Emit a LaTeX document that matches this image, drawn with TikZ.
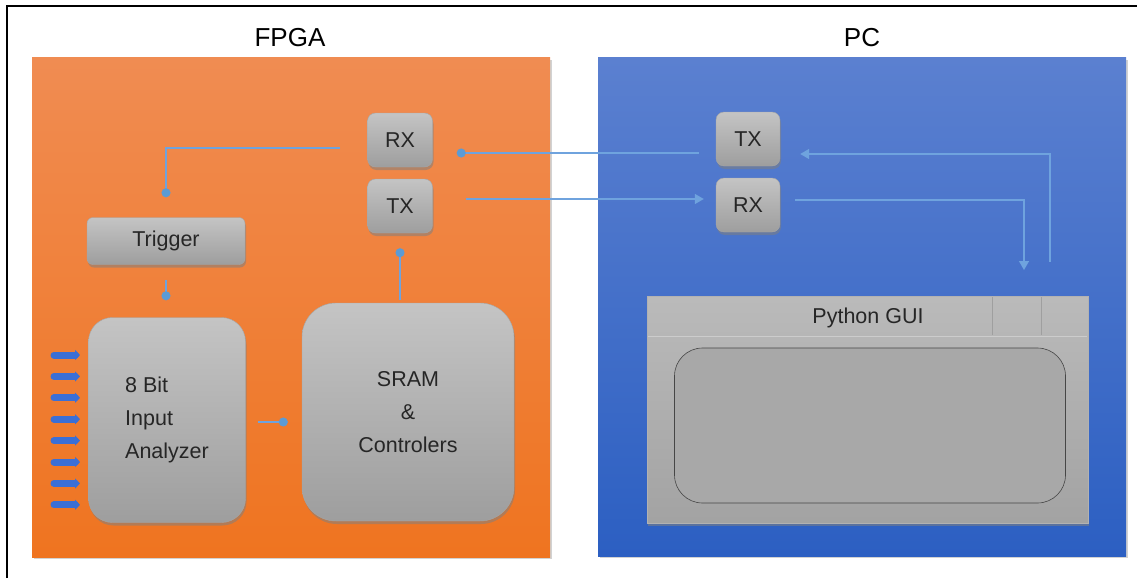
\documentclass[tikz,border=0pt]{standalone}
\usepackage{fontspec}
\setmainfont{Liberation Sans}
\usetikzlibrary{shadows,arrows.meta}
\definecolor{orTop}{HTML}{F08C52}
\definecolor{orBot}{HTML}{EF7420}
\definecolor{blTop}{HTML}{5B80D0}
\definecolor{blBot}{HTML}{2C5FC2}
\definecolor{gTop}{HTML}{C4C4C4}
\definecolor{gBot}{HTML}{9E9E9E}
\definecolor{link}{HTML}{6FA3DE}
\definecolor{dotc}{HTML}{5B9BD5}
\definecolor{inarr}{HTML}{3B6FD6}
\tikzset{
  panel/.style={draw=none, drop shadow={shadow xshift=2pt, shadow yshift=-2pt, opacity=0.35}},
  gbox/.style={draw=gray!70, line width=0.4pt, top color=gTop, bottom color=gBot,
     drop shadow={shadow xshift=1pt, shadow yshift=-3pt, opacity=0.55},
     font=\fontsize{21.5}{33}\selectfont, text=black!85, inner sep=0pt},
  title/.style={font=\fontsize{26}{30}\selectfont, text=black},
  link/.style={draw=link, line width=1.3pt},
  dotlink/.style={link, -{Circle[length=9pt, fill=dotc, color=dotc]}},
  trilink/.style={link, -{Triangle[length=9pt, width=10pt, fill=link, color=link]}},
  inp/.style={draw=inarr, line width=7pt, line cap=round, -{Triangle[length=5pt,width=10pt]}}
}
\begin{document}
\begin{tikzpicture}[x=1pt,y=-1pt]
\useasboundingbox (0,0) rectangle (1137,578);
\fill[white] (0,0) rectangle (1137,578);
% frame
\draw[black, line width=2pt] (7,578) -- (7,6) -- (1137,6);
% panels
\path[panel, top color=orTop, bottom color=orBot] (32,58) rectangle (550,557);
\path[panel, top color=blTop, bottom color=blBot] (598,58) rectangle (1126,556);
\node[title] (tf) at (290,38) {FPGA};
\node[title] (tp) at (862,38) {PC};
% FPGA blocks
\node[gbox, rounded corners=8pt, minimum width=65pt, minimum height=54pt] (rxf) at (400,140) {RX};
\node[gbox, rounded corners=8pt, minimum width=65pt, minimum height=54pt] (txf) at (400,206) {TX};
\node[gbox, rounded corners=6pt, minimum width=158pt, minimum height=47pt] (trig) at (166,241) {Trigger};
\node[gbox, rounded corners=24pt, minimum width=157pt, minimum height=205pt, align=left] (ana) at (167,420) {8 Bit\\Input\\Analyzer};
\node[gbox, rounded corners=34pt, minimum width=212pt, minimum height=218pt, align=center] (sram) at (408,412) {SRAM\\\&\\Controlers};
% PC blocks
\node[gbox, rounded corners=8pt, minimum width=64pt, minimum height=54pt] (txp) at (748,139) {TX};
\node[gbox, rounded corners=8pt, minimum width=64pt, minimum height=54pt] (rxp) at (748,205) {RX};
\node[draw=gray!60, line width=0.4pt, top color=gTop!95!black, bottom color=gBot!95!white,
      drop shadow={shadow xshift=1pt, shadow yshift=-3pt, opacity=0.55},
      minimum width=441pt, minimum height=227pt, inner sep=0pt] (gui) at (867.5,409.5) {};
\node[font=\fontsize{21.5}{26}\selectfont, text=black!85] (guit) at (868,318) {Python GUI};
\coordinate (sepL) at (648,336);
\coordinate (sepR) at (1087,336);
\draw[gray!40!white, line width=0.6pt] (sepL) -- (sepR);
\coordinate (v1t) at (992,297); \coordinate (v1b) at (992,335);
\coordinate (v2t) at (1041,297); \coordinate (v2b) at (1041,335);
\draw[gray!75, line width=0.5pt] (v1t) -- (v1b);
\draw[gray!75, line width=0.5pt] (v2t) -- (v2b);
\node[draw=gray!55!black, line width=0.6pt, fill=gray!68, rounded corners=28pt,
      minimum width=391pt, minimum height=155pt] (win) at (870,425.5) {};
% input arrows
\foreach \i in {0,...,7}{
  \coordinate (ia\i) at (54,355+21.4*\i);
  \coordinate (ib\i) at (80,355+21.4*\i);
  \draw[inp] (ia\i) -- (ib\i);
}
% connectors FPGA
\draw[dotlink, shorten <=27pt, shorten >=20pt] ([yshift=-8pt]rxf.west) -| (trig.north);
\draw[dotlink, shorten <=15pt, shorten >=17pt] (trig.south) -- (ana.north -| trig.south);
\draw[dotlink, shorten <=12pt, shorten >=14pt] ([yshift=-2pt]ana.east) -- ([yshift=-2pt]ana.east -| sram.west);
\draw[dotlink, shorten <=3pt, shorten >=15pt] (sram.north -| txf.south) -- (txf.south);
% between FPGA and PC
\draw[dotlink, shorten <=17pt, shorten >=24pt] ([yshift=-14pt]txp.west) -- ([yshift=-14pt]txp.west -| rxf.east);
\draw[trilink, shorten <=33pt, shorten >=12pt] ([yshift=7pt]txf.east) -- ([yshift=7pt]txf.east -| rxp.west);
% PC connectors
\coordinate (cdn) at (1024,270);
\coordinate (cup) at (1050,262);
\draw[trilink, shorten <=15pt] ([yshift=5pt]rxp.east) -| (cdn);
\draw[trilink, shorten >=20pt] (cup) |- ([yshift=-15pt]txp.east);
\end{tikzpicture}
\end{document}
